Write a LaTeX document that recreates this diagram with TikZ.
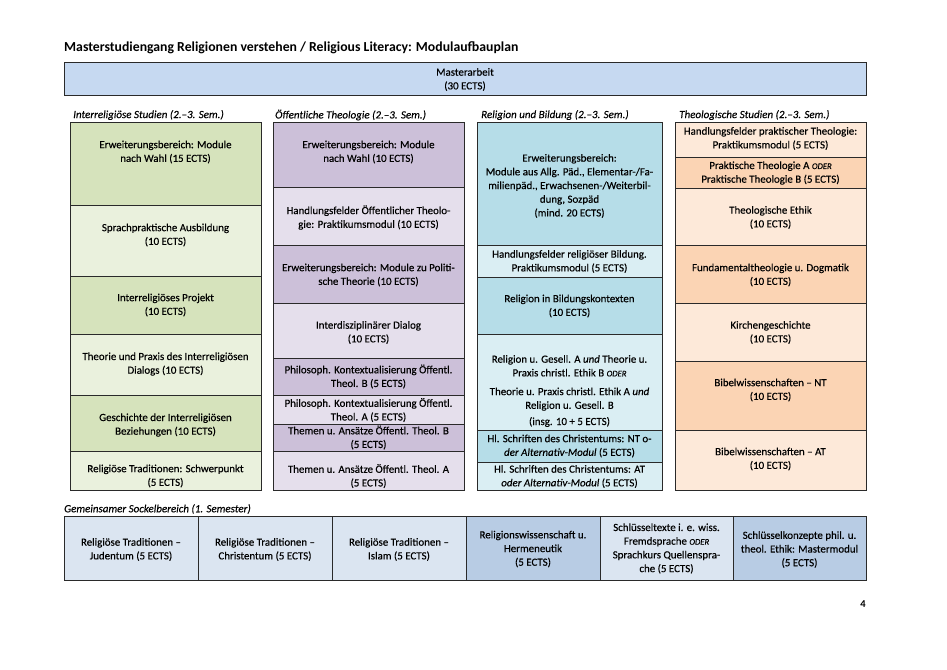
\documentclass[tikz,border=0pt]{standalone}
\usepackage{fontspec}
\setmainfont{Carlito}[UprightFeatures={FakeBold=0.35}, ItalicFeatures={FakeBold=0.35}]
\usetikzlibrary{fit}
\pgfdeclarelayer{bg}
\pgfsetlayers{bg,main}
\definecolor{gD}{HTML}{D6E3BC}
\definecolor{gL}{HTML}{EAF1DD}
\definecolor{pD}{HTML}{CCC0D9}
\definecolor{pL}{HTML}{E5DFEC}
\definecolor{bD}{HTML}{B6DDE8}
\definecolor{bL}{HTML}{DAEEF3}
\definecolor{oD}{HTML}{FBD4B4}
\definecolor{oL}{HTML}{FDE9D9}
\definecolor{lD}{HTML}{DBE5F1}
\definecolor{mD}{HTML}{B8CCE4}
\definecolor{mA}{HTML}{C6D9F1}
\definecolor{lineC}{HTML}{2A2A2A}
\newcommand\oder{{\fontsize{8.6}{10}\selectfont\itshape ODER}}
\newcommand\mcell[8]{%
  \begin{pgfonlayer}{bg}
  \node[cellbox, fill=#6, fit={(#2,#3) (#4,#5)}] (#1) {};
  \end{pgfonlayer}
  \node[celltxt] (#1t) at ({(#2+#4)/2},#7) {#8};}
\begin{document}
\begin{tikzpicture}[x=1pt,y=-1pt,
  cellbox/.style={draw=lineC, line width=1pt, inner sep=0pt},
  celltxt/.style={align=center, inner sep=0pt, text=black, font=\fontsize{10.9}{13.7}\selectfont},
  hdr/.style={anchor=west, inner sep=0pt, font=\fontsize{11}{12}\selectfont\itshape}]
\useasboundingbox (0,0) rectangle (947,669);
\node[anchor=west, inner sep=0pt, font=\fontsize{13.75}{15}\selectfont\bfseries] (title) at (64,48)
  {Masterstudiengang Religionen verstehen / Religious Literacy: Modulaufbauplan};
\mcell{ma}{64}{63}{866}{95}{mA}{79.5}{Masterarbeit\\(30 ECTS)}
% headers
\node[hdr] (h1) at (73,115) {Interreligiöse Studien (2.–3. Sem.)};
\node[hdr] (h2) at (275,115) {Öffentliche Theologie (2.–3. Sem.)};
\node[hdr] (h3) at (481,115) {Religion und Bildung (2.–3. Sem.)};
\node[hdr] (h4) at (679,115) {Theologische Studien (2.–3. Sem.)};
\node[hdr] (h5) at (64,509) {Gemeinsamer Sockelbereich (1. Semester)};
% column 1
\mcell{c1a}{70}{122}{261}{205}{gD}{152}{Erweiterungsbereich: Module\\nach Wahl (15 ECTS)}
\mcell{c1b}{70}{205}{261}{276}{gL}{235}{Sprachpraktische Ausbildung\\(10 ECTS)}
\mcell{c1c}{70}{276}{261}{334}{gD}{305}{Interreligiöses Projekt\\(10 ECTS)}
\mcell{c1d}{70}{334}{261}{395}{gL}{364}{Theorie und Praxis des Interreligiösen\\Dialogs (10 ECTS)}
\mcell{c1e}{70}{395}{261}{451}{gD}{425}{Geschichte der Interreligiösen\\Beziehungen (10 ECTS)}
\mcell{c1f}{70}{451}{261}{490}{gL}{476}{Religiöse Traditionen: Schwerpunkt\\(5 ECTS)}
% column 2
\mcell{c2a}{273}{122}{464}{187}{pD}{152}{Erweiterungsbereich: Module\\nach Wahl (10 ECTS)}
\mcell{c2b}{273}{187}{464}{245}{pL}{217.5}{Handlungsfelder Öffentlicher Theolo-\\gie: Praktikumsmodul (10 ECTS)}
\mcell{c2c}{273}{245}{464}{303}{pD}{275}{Erweiterungsbereich: Module zu Politi-\\sche Theorie (10 ECTS)}
\mcell{c2d}{273}{303}{464}{358}{pL}{332.5}{Interdisziplinärer Dialog\\(10 ECTS)}
\mcell{c2e}{273}{358}{464}{395}{pD}{376.5}{Philosoph. Kontextualisierung Öffentl.\\Theol. B (5 ECTS)}
\mcell{c2f}{273}{395}{464}{424}{pL}{410}{Philosoph. Kontextualisierung Öffentl.\\Theol. A (5 ECTS)}
\mcell{c2g}{273}{424}{464}{451}{pD}{437.5}{Themen u. Ansätze Öffentl. Theol. B\\(5 ECTS)}
\mcell{c2h}{273}{451}{464}{490}{pL}{476}{Themen u. Ansätze Öffentl. Theol. A\\(5 ECTS)}
% column 3
\mcell{c3a}{477}{122}{662}{245}{bD}{186}{Erweiterungsbereich:\\Module aus Allg. Päd., Elementar-/Fa-\\milienpäd., Erwachsenen-/Weiterbil-\\dung, Sozpäd\\(mind. 20 ECTS)}
\mcell{c3b}{477}{245}{662}{277}{bL}{261.5}{Handlungsfelder religiöser Bildung.\\Praktikumsmodul (5 ECTS)}
\mcell{c3c}{477}{277}{662}{334}{bD}{306}{Religion in Bildungskontexten\\(10 ECTS)}
\mcell{c3d}{477}{334}{662}{430}{bL}{391}{Religion u. Gesell. A \emph{und} Theorie u.\\Praxis christl. Ethik B \oder\\[5pt]Theorie u. Praxis christl. Ethik A \emph{und}\\Religion u. Gesell. B\\[2.5pt](insg. 10 + 5 ECTS)}
\mcell{c3e}{477}{430}{662}{462}{bD}{446}{Hl. Schriften des Christentums: NT o-\\\emph{der Alternativ-Modul} (5 ECTS)}
\mcell{c3f}{477}{462}{662}{490}{bL}{476.5}{Hl. Schriften des Christentums: AT\\\emph{oder Alternativ-Modul} (5 ECTS)}
% column 4
\mcell{c4a}{675}{122}{866}{157}{oL}{138.5}{Handlungsfelder praktischer Theologie:\\Praktikumsmodul (5 ECTS)}
\mcell{c4b}{675}{157}{866}{188}{oD}{173}{Praktische Theologie A \oder\\Praktische Theologie B (5 ECTS)}
\mcell{c4c}{675}{188}{866}{245}{oL}{217.5}{Theologische Ethik\\(10 ECTS)}
\mcell{c4d}{675}{245}{866}{303}{oD}{275}{Fundamentaltheologie u. Dogmatik\\(10 ECTS)}
\mcell{c4e}{675}{303}{866}{361}{oL}{332.5}{Kirchengeschichte\\(10 ECTS)}
\mcell{c4f}{675}{361}{866}{430}{oD}{390}{Bibelwissenschaften – NT\\(10 ECTS)}
\mcell{c4g}{675}{430}{866}{490}{oL}{459}{Bibelwissenschaften – AT\\(10 ECTS)}
% bottom row
\mcell{s1}{64}{516}{198}{580}{lD}{549.5}{Religiöse Traditionen –\\Judentum (5 ECTS)}
\mcell{s2}{198}{516}{332}{580}{lD}{549.5}{Religiöse Traditionen –\\Christentum (5 ECTS)}
\mcell{s3}{332}{516}{466}{580}{lD}{549.5}{Religiöse Traditionen –\\Islam (5 ECTS)}
\mcell{s4}{466}{516}{600}{580}{mD}{549}{Religionswissenschaft u.\\Hermeneutik\\(5 ECTS)}
\mcell{s5}{600}{516}{733}{580}{lD}{548.5}{Schlüsseltexte i. e. wiss.\\Fremdsprache \oder\\Sprachkurs Quellenspra-\\che (5 ECTS)}
\mcell{s6}{733}{516}{866}{580}{mD}{549.5}{Schlüsselkonzepte phil. u.\\theol. Ethik: Mastermodul\\(5 ECTS)}
\node[inner sep=0pt, font=\fontsize{10.5}{12}\selectfont\bfseries] (pg) at (863,604) {4};
\end{tikzpicture}
\end{document}
